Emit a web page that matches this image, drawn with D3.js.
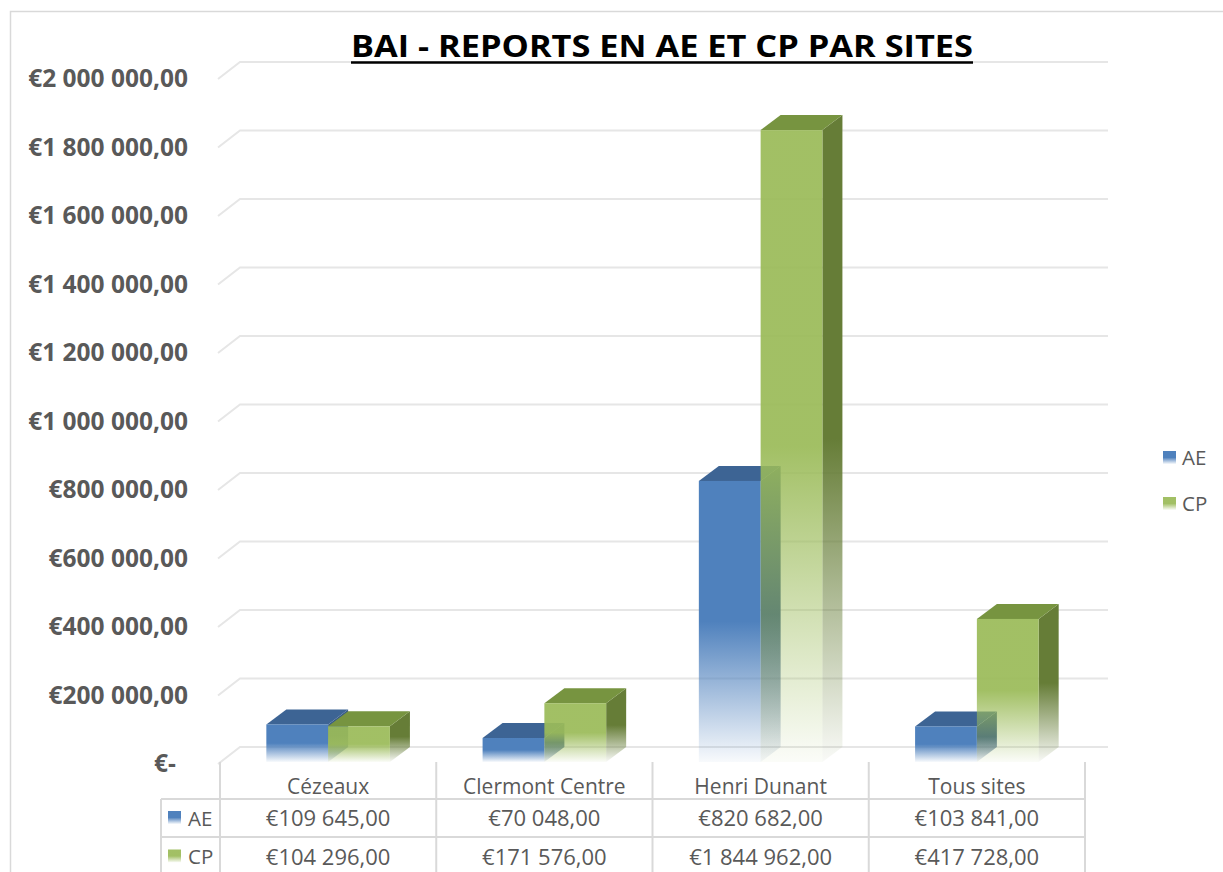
<!DOCTYPE html>
<html>
<head>
<meta charset="utf-8">
<script src="https://cdn.jsdelivr.net/npm/d3@7"></script>
<style>
  html, body { margin: 0; padding: 0; background: #ffffff; }
  svg { display: block; font-family: "Open Sans", sans-serif; }
</style>
</head>
<body>
<div id="chart"></div>
<script>
/* ********* data ********* */
var title = "BAI - REPORTS EN AE ET CP PAR SITES";
var categories = ["Cézeaux", "Clermont Centre", "Henri Dunant", "Tous sites"];
var seriesNames = ["AE", "CP"];
var aeValues = [109645, 70048, 820682, 103841];
var cpValues = [104296, 171576, 1844962, 417728];
var yTicks = [0, 200000, 400000, 600000, 800000, 1000000, 1200000, 1400000, 1600000, 1800000, 2000000];

/* ********* setup ********* */
var W = 1223, H = 872;
var colors = {
  AE: { front: "#4f81bd", top: "#3d6494", side: "#375b87" },
  CP: { front: "#9bbb59", top: "#779440", side: "#667d37" }
};
var wallDx = 22, wallDy = -17;   // floor depth (front plane -> back wall)
var barDx = 20, barDy = -15;     // bar depth

var fr = d3.formatLocale({ decimal: ",", thousands: "\u00a0", grouping: [3], currency: ["€", ""] });
var money = fr.format("$,.2f");

var svg = d3.select("#chart").append("svg")
  .attr("width", W)
  .attr("height", H);

var defs = svg.append("defs");
function fadeGradient(id, color, topOpacity) {
  var g = defs.append("linearGradient")
    .attr("id", id)
    .attr("x1", 0).attr("y1", 0).attr("x2", 0).attr("y2", 1);
  g.append("stop").attr("offset", 0).attr("stop-color", color).attr("stop-opacity", topOpacity);
  g.append("stop").attr("offset", 0.5).attr("stop-color", color).attr("stop-opacity", topOpacity);
  g.append("stop").attr("offset", 1).attr("stop-color", color).attr("stop-opacity", 0.04);
}
seriesNames.forEach(function(s) {
  fadeGradient("front-" + s, colors[s].front, s === "CP" ? 0.93 : 1);
  fadeGradient("side-" + s, colors[s].side, 1);
});

// chart frame
svg.append("rect")
  .attr("x", 10.5).attr("y", 11.5)
  .attr("width", W + 20).attr("height", H + 20)
  .attr("fill", "#ffffff")
  .attr("stroke", "#d9d9d9")
  .attr("stroke-width", 1.5);

/* ********* scales ********* */
var y = d3.scaleLinear().domain([0, 2000000]).range([747, 62]);           // back wall
var yFront = d3.scaleLinear().domain([0, 2000000]).range([747 - wallDy, 62 - wallDy]);
var x0 = d3.scaleBand().domain(categories).range([220, 1085]);
var bw = x0.bandwidth();
var x1 = d3.scaleBand().domain(seriesNames)
  .range([bw * 0.75 / 3.5, bw - bw * 0.75 / 3.5]);

/* ********* gridlines (back wall + floor side) ********* */
svg.append("g").attr("class", "grid")
  .selectAll("path")
  .data(yTicks)
  .enter().append("path")
    .attr("d", function(d) {
      return "M" + (x0.range()[0] - 2) + "," + yFront(d) +
             "L" + (x0.range()[0] + wallDx - 2) + "," + y(d) +
             "L" + (x0.range()[1] + wallDx + 1) + "," + y(d);
    })
    .attr("fill", "none")
    .attr("stroke", "#e6e6e6")
    .attr("stroke-width", 2);

/* ********* y axis ********* */
var yAxis = svg.append("g")
  .attr("transform", "translate(188,0)")
  .call(d3.axisLeft(yFront)
    .tickValues(yTicks)
    .tickSize(0)
    .tickPadding(0)
    .tickFormat(function(d) { return d === 0 ? "€-" : money(d); }));
yAxis.select(".domain").remove();
yAxis.selectAll("text")
  .attr("fill", "#595959")
  .attr("font-family", "Open Sans")
  .attr("font-weight", "bold")
  .attr("font-size", 24.5)
  .attr("dx", function(d) { return d === 0 ? -12 : 0; });

/* ********* bars ********* */
var rows = categories.map(function(c, i) {
  return { cat: c, values: [{ s: "AE", v: aeValues[i] }, { s: "CP", v: cpValues[i] }] };
});
var base = y(0) - barDy;  // front bottom edge

var groups = svg.append("g").attr("class", "bars")
  .selectAll("g")
  .data(rows)
  .enter().append("g")
    .attr("transform", function(d) { return "translate(" + x0(d.cat) + ",0)"; });

var bars = groups.selectAll("g")
  .data(function(d) { return d.values; })
  .enter().append("g");

bars.append("path")
  .attr("d", function(d) {
    var xa = x1(d.s) + x1.bandwidth(), yt = y(d.v) - barDy;
    return "M" + xa + "," + yt + "l" + barDx + "," + barDy +
           "L" + (xa + barDx) + "," + (base + barDy) + "L" + xa + "," + base + "Z";
  })
  .attr("fill", function(d) { return "url(#side-" + d.s + ")"; });

bars.append("path")
  .attr("d", function(d) {
    var xa = x1(d.s), w = x1.bandwidth(), yt = y(d.v) - barDy;
    return "M" + xa + "," + yt + "l" + barDx + "," + barDy + "l" + w + ",0" +
           "l" + (-barDx) + "," + (-barDy) + "Z";
  })
  .attr("fill", function(d) { return colors[d.s].top; });

bars.append("rect")
  .attr("x", function(d) { return x1(d.s); })
  .attr("y", function(d) { return y(d.v) - barDy; })
  .attr("width", x1.bandwidth())
  .attr("height", function(d) { return base - (y(d.v) - barDy); })
  .attr("fill", function(d) { return "url(#front-" + d.s + ")"; });

/* ********* data table ********* */
var tLeft = 161, tTop = 762, rowLines = [799, 837, 876];
var table = svg.append("g").attr("class", "table");
var lineColor = "#d9d9d9";

rowLines.forEach(function(ly) {
  table.append("line")
    .attr("x1", tLeft).attr("x2", x0.range()[1])
    .attr("y1", ly).attr("y2", ly)
    .attr("stroke", lineColor).attr("stroke-width", 2);
});
table.append("line")
  .attr("x1", tLeft).attr("x2", tLeft)
  .attr("y1", rowLines[0]).attr("y2", H + 5)
  .attr("stroke", lineColor).attr("stroke-width", 2);
table.selectAll("line.col")
  .data(categories.concat(["end"]))
  .enter().append("line")
    .attr("class", "col")
    .attr("x1", function(d, i) { return x0.range()[0] + i * bw; })
    .attr("x2", function(d, i) { return x0.range()[0] + i * bw; })
    .attr("y1", tTop).attr("y2", H + 5)
    .attr("stroke", lineColor).attr("stroke-width", 2);

table.selectAll("text.cat")
  .data(categories)
  .enter().append("text")
    .attr("class", "cat")
    .attr("x", function(d) { return x0(d) + bw / 2; })
    .attr("y", 794)
    .attr("text-anchor", "middle")
    .attr("font-size", 21)
    .attr("fill", "#595959")
    .text(function(d) { return d; });

var seriesRows = [{ s: "AE", vals: aeValues }, { s: "CP", vals: cpValues }];
seriesRows.forEach(function(r, ri) {
  var cy = (rowLines[ri] + rowLines[ri + 1]) / 2;
  table.append("rect")
    .attr("x", 168).attr("y", cy - 7)
    .attr("width", 13).attr("height", 13)
    .attr("fill", "url(#front-" + r.s + ")");
  table.append("text")
    .attr("x", 188).attr("y", cy + 7.5)
    .attr("font-size", 20.5)
    .attr("fill", "#595959")
    .text(r.s);
  table.selectAll("text.v" + r.s)
    .data(r.vals)
    .enter().append("text")
      .attr("class", "v" + r.s)
      .attr("x", function(d, i) { return x0(categories[i]) + bw / 2; })
      .attr("y", cy + 8)
      .attr("text-anchor", "middle")
      .attr("font-size", 22)
      .attr("fill", "#595959")
      .text(function(d) { return money(d); });
});

/* ********* legend ********* */
var legend = svg.append("g").attr("class", "legend")
  .selectAll("g")
  .data(seriesNames)
  .enter().append("g")
    .attr("transform", function(d, i) { return "translate(1163," + (451 + i * 46) + ")"; });
legend.append("rect")
  .attr("width", 13).attr("height", 13)
  .attr("fill", function(d) { return "url(#front-" + d + ")"; });
legend.append("text")
  .attr("x", 19).attr("y", 14)
  .attr("font-size", 20.5)
  .attr("fill", "#595959")
  .text(function(d) { return d; });

/* ********* title ********* */
svg.append("text")
  .attr("x", 351).attr("y", 57)
  .attr("textLength", 622)
  .attr("lengthAdjust", "spacingAndGlyphs")
  .attr("font-size", 31)
  .attr("font-weight", "bold")
  .attr("fill", "#000000")
  .text(title);
svg.append("line")
  .attr("x1", 351).attr("x2", 973)
  .attr("y1", 62.5).attr("y2", 62.5)
  .attr("stroke", "#000000").attr("stroke-width", 2.5);
</script>
</body>
</html>
